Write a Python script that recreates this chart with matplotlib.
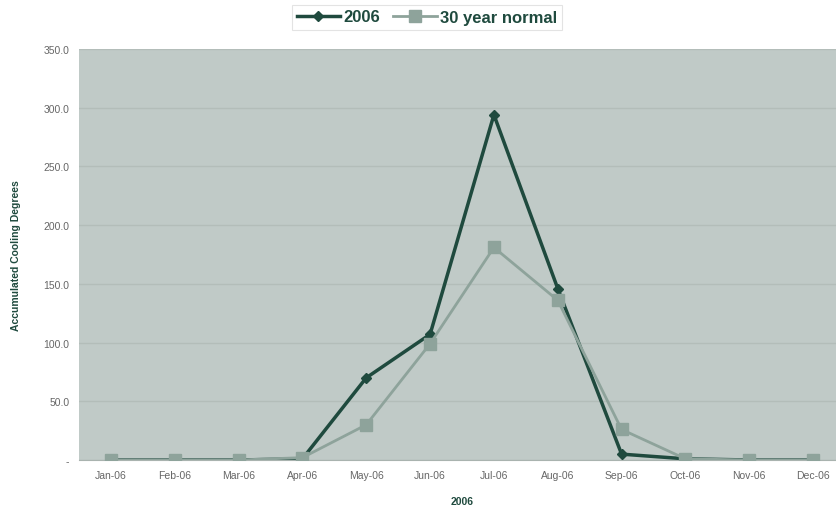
import numpy as np
import matplotlib.pyplot as plt

plt.rcParams['font.family'] = ['Liberation Sans', 'DejaVu Sans']

months = ['Jan-06', 'Feb-06', 'Mar-06', 'Apr-06', 'May-06', 'Jun-06',
          'Jul-06', 'Aug-06', 'Sep-06', 'Oct-06', 'Nov-06', 'Dec-06']
cd_2006 = [0, 0, 0, 1, 70, 107, 294, 146, 5, 1, 0, 0]
cd_normal = [0, 0, 0, 2, 30, 99, 181, 136, 26, 1, 0, 0]
yticks = [0, 50, 100, 150, 200, 250, 300, 350]
ytick_labels = ['-', '50.0', '100.0', '150.0', '200.0', '250.0', '300.0', '350.0']

dark = '#1f4a3e'
light = '#8ea39b'
bg = '#c0cac7'

W, H = 836, 506
fig = plt.figure(figsize=(W / 100, H / 100), dpi=100)
ax = fig.add_axes([79 / W, 45 / H, (845 - 79) / W, (461 - 50) / H])
ax.set_facecolor(bg)

x = np.arange(len(months))
ax.plot(x, cd_2006, color=dark, lw=2.5, marker='D', ms=5.5,
        label='2006', zorder=3)
ax.plot(x, cd_normal, color=light, lw=2, marker='s', ms=9,
        label='30 year normal', zorder=4)

ax.set_xlim(-0.5, 11.5)
ax.set_ylim(0, 350)
ax.set_yticks(yticks)
ax.set_yticklabels(ytick_labels)
ax.set_xticks(x)
ax.set_xticklabels(months)
ax.tick_params(axis='both', length=0, labelsize=7.5, colors='#666666', pad=7)
ax.yaxis.grid(True, color='#b3bdb9', lw=1)
ax.set_axisbelow(True)
for s in ['top', 'right', 'left']:
    ax.spines[s].set_visible(False)
ax.spines['bottom'].set_color('#a9b3af')

ax.set_xlabel('2006', fontsize=7.5, fontweight='bold', color=dark, labelpad=12)
ax.set_ylabel('Accumulated Cooling Degrees', fontsize=7.5, fontweight='bold',
              color=dark, labelpad=16)

handles, labels = ax.get_legend_handles_labels()
leg = fig.legend(handles, labels, loc='center',
                 bbox_to_anchor=(427 / W, 1 - 18 / H), ncol=2,
                 frameon=True, fontsize=12, handlelength=2.6,
                 handletextpad=0.2, columnspacing=0.8, borderpad=0.3,
                 fancybox=False)
leg.get_frame().set_edgecolor('#dddddd')
leg.get_frame().set_linewidth(0.8)
for t in leg.get_texts():
    t.set_color(dark)
    t.set_fontweight('bold')

fig.savefig('out.png', dpi=100)
